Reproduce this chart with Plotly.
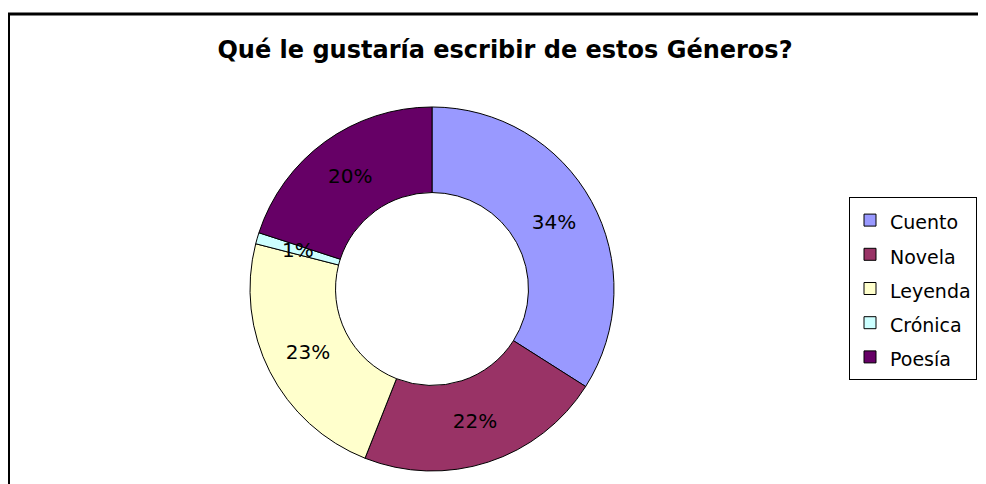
import math
import plotly.graph_objects as go

categories = ["Cuento", "Novela", "Leyenda", "Crónica", "Poesía"]
values = [34, 22, 23, 1, 20]
colors = ["#9999FF", "#993366", "#FFFFCC", "#CCFFFF", "#660066"]
title_text = "Qué le gustaría escribir de estos Géneros?"

# the page body has an 8px margin, so the figure is 8px smaller than the window
W, H = 978, 476
FONT = "DejaVu Sans, Liberation Sans, Arial, sans-serif"

# pie geometry (pixels within the figure)
CX, CY, R = 424, 281, 182
HOLE = 0.53
dom_x = [(CX - R) / W, (CX + R) / W]
dom_y = [1 - (CY + R) / H, 1 - (CY - R) / H]

total = sum(values)
shares = [v / total for v in values]
SMALL = 0.03
templates = ["%{percent:.0%}" if s >= SMALL else "" for s in shares]
legend_labels = ["<span style='font-size:19px'>" + c + "</span>" for c in categories]

fig = go.Figure(go.Pie(
    labels=legend_labels,
    values=values,
    sort=False,
    direction="clockwise",
    rotation=0,
    hole=HOLE,
    marker=dict(colors=colors, line=dict(color="black", width=1)),
    texttemplate=templates,
    textposition="inside",
    insidetextorientation="horizontal",
    textfont=dict(family=FONT, size=20, color="black"),
    domain=dict(x=dom_x, y=dom_y),
    customdata=categories,
    hovertemplate="%{customdata}: %{percent:.0%}<extra></extra>",
))

# labels of very thin slices are placed at the middle of the ring, as in the original
annotations = []
cum = 0.0
r_lab = R * (1 + HOLE) / 2
for s in shares:
    mid = cum + s / 2
    cum += s
    if s >= SMALL:
        continue
    th = mid * 2 * math.pi
    annotations.append(dict(
        x=(CX + r_lab * math.sin(th)) / W,
        y=1 - (CY - r_lab * math.cos(th)) / H,
        xref="paper", yref="paper", showarrow=False,
        text=f"{s:.0%}", font=dict(family=FONT, size=20, color="black"),
        xanchor="center", yanchor="middle",
    ))

fig.update_layout(
    width=W, height=H,
    margin=dict(l=0, r=0, t=0, b=0),
    paper_bgcolor="white",
    plot_bgcolor="white",
    title=dict(text="<b>" + title_text + "</b>", x=497 / W, xanchor="center",
               y=1 - 42 / H, yanchor="middle",
               font=dict(family=FONT, size=24, color="black")),
    uniformtext=dict(minsize=20, mode="show"),
    showlegend=True,
    legend=dict(
        x=841 / W, xanchor="left", y=1 - 189 / H, yanchor="top",
        bordercolor="black", borderwidth=1, bgcolor="white",
        font=dict(family=FONT, size=24, color="black"),
        itemclick=False, itemdoubleclick=False,
    ),
    annotations=annotations,
    shapes=[dict(type="rect", xref="paper", yref="paper",
                 x0=0.5 / W, x1=1.05, y0=-0.05, y1=1 - 6 / H,
                 line=dict(color="black", width=3), fillcolor="rgba(0,0,0,0)",
                 layer="below")],
)

fig.write_html("out.html")
